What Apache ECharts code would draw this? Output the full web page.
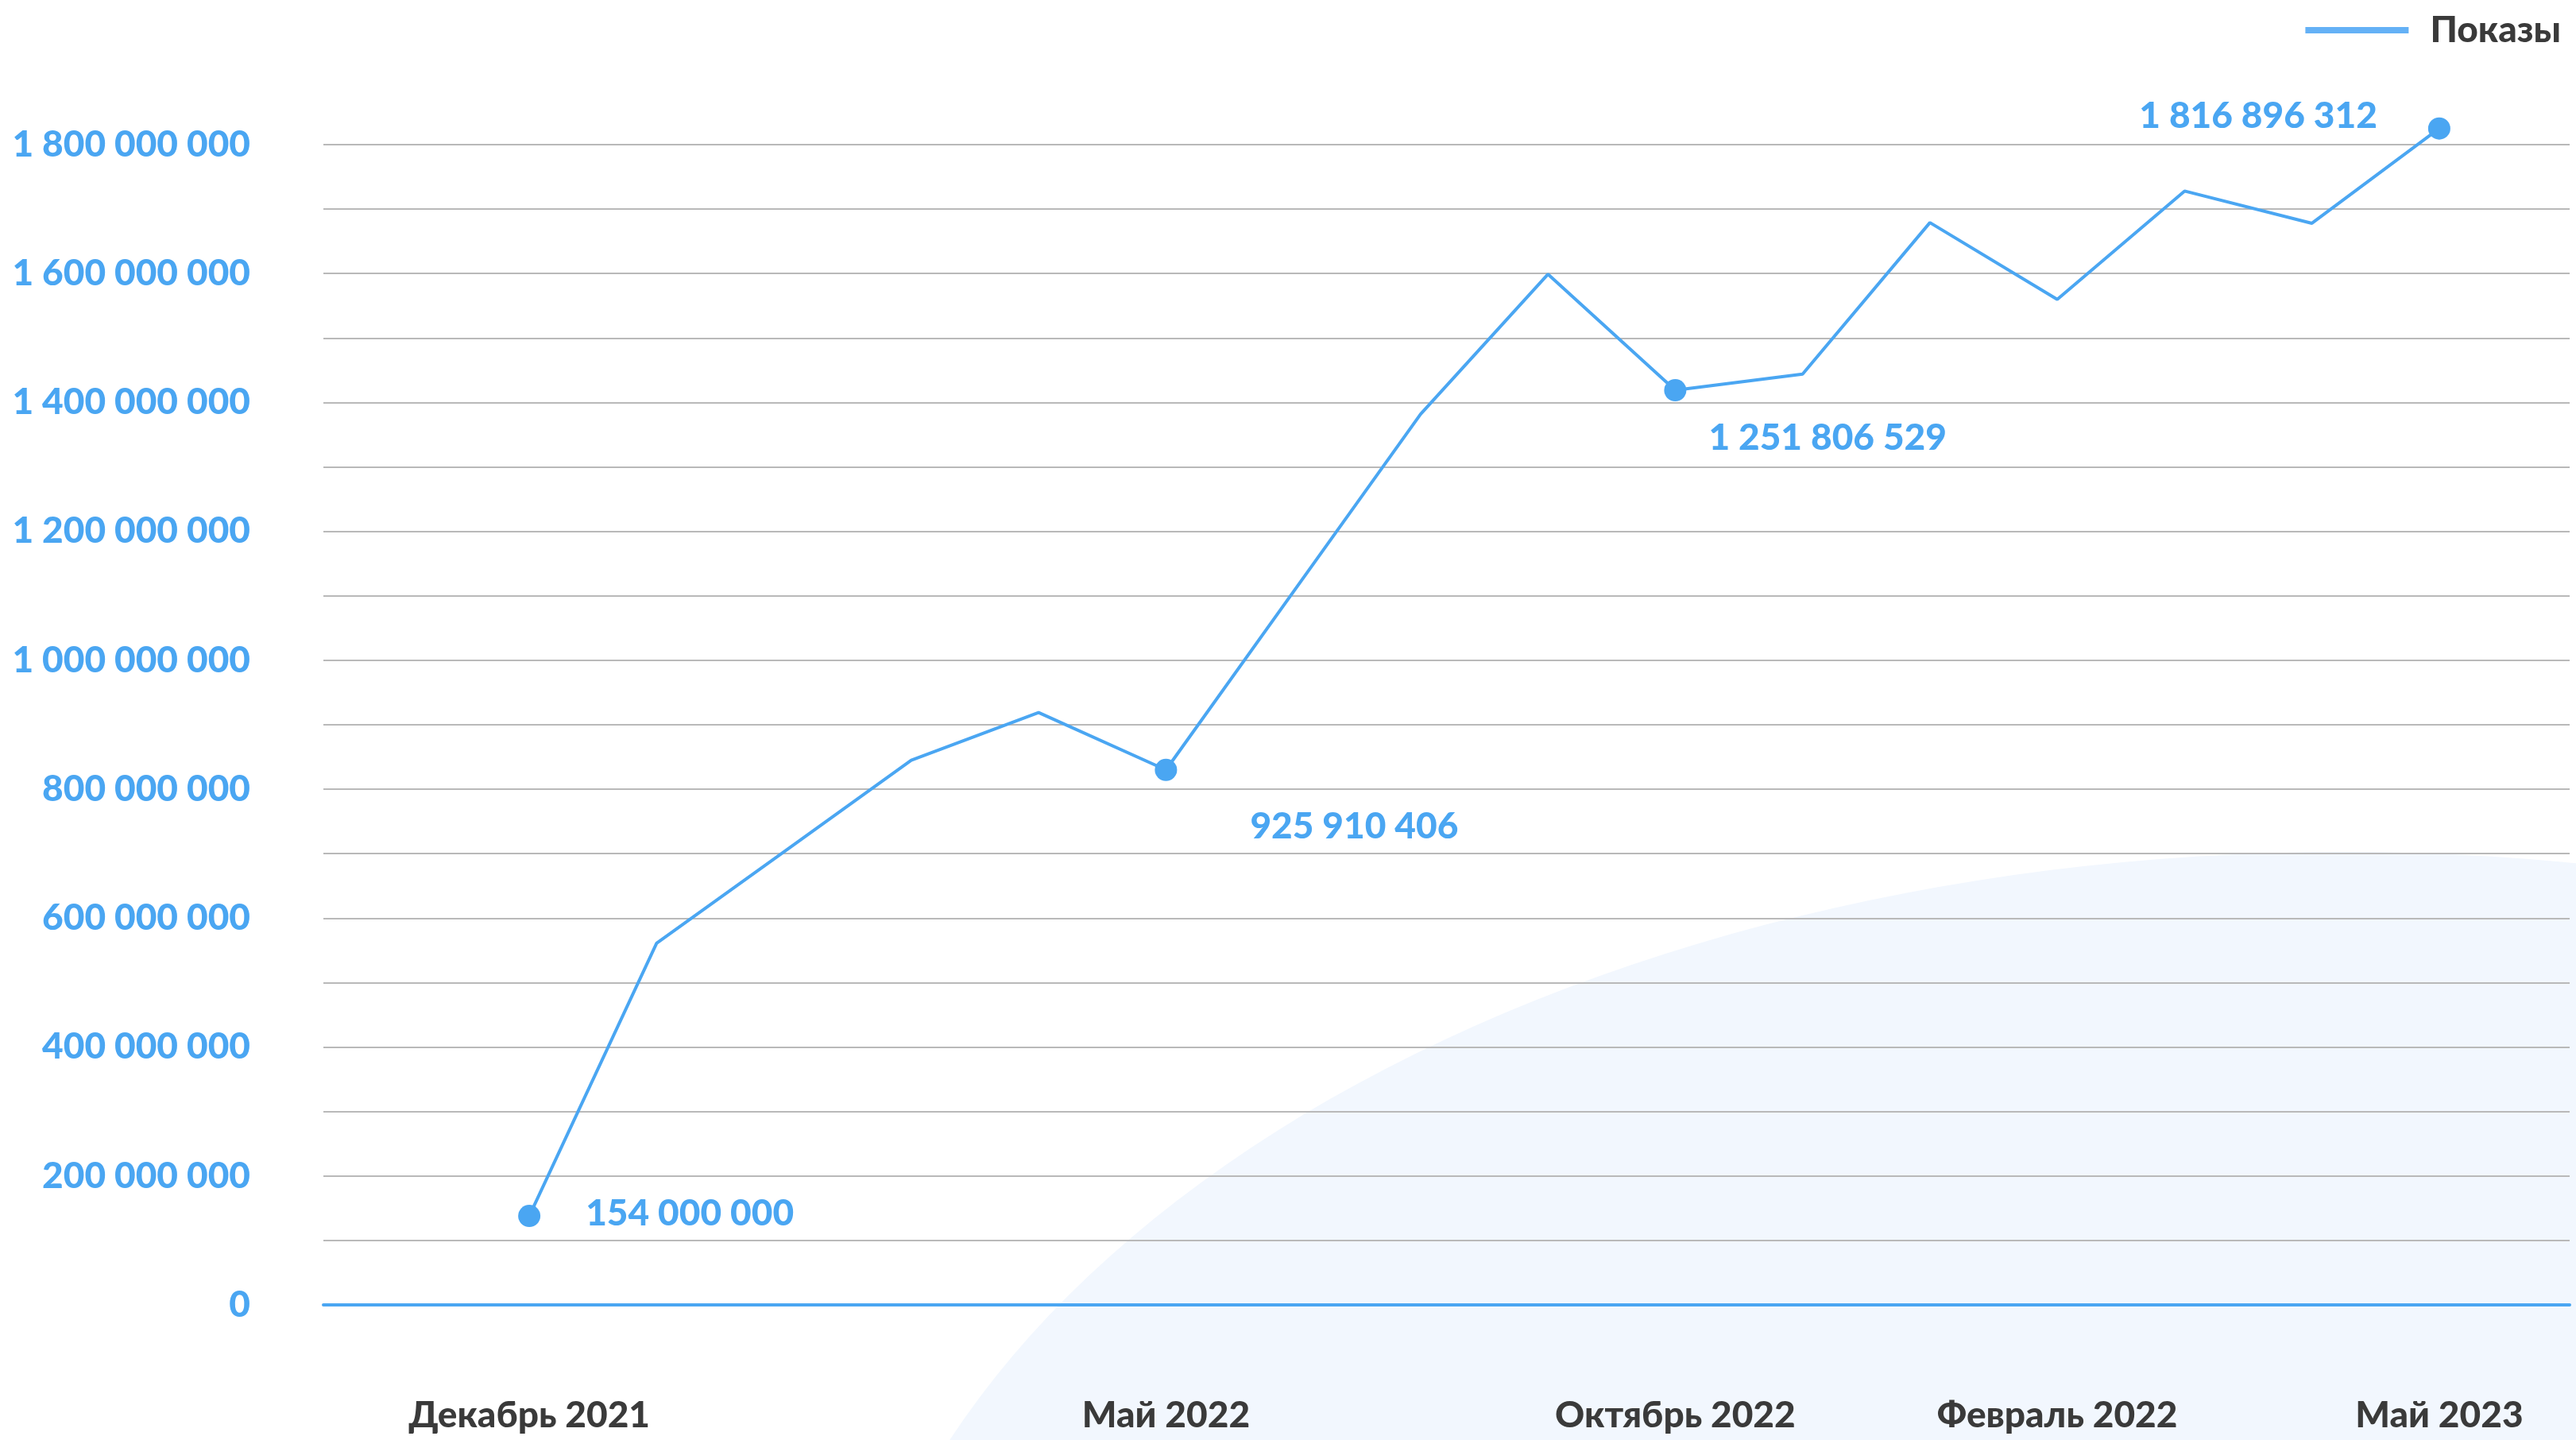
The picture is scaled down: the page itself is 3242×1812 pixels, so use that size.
<!DOCTYPE html>
<html>
<head>
<meta charset="utf-8">
<title>Показы</title>
<script src="https://cdn.jsdelivr.net/npm/echarts@6/dist/echarts.min.js"></script>
<style>
  html, body { margin: 0; padding: 0; background: #fff; }
  #chart { width: 3242px; height: 1812px; }
</style>
</head>
<body>
<div id="chart"></div>
<script>
// months along the x axis (only some are labelled in the original)
const categories = [
  'Декабрь 2021', '', '', '', '', 'Май 2022', '', '', '',
  'Октябрь 2022', '', '', 'Февраль 2022', '', '', 'Май 2023'
];

// impressions, millions
const showsMln = [138, 561, 703, 845, 919, 830, 1106, 1382, 1599, 1419, 1444, 1679, 1560, 1728, 1678, 1825];

// highlighted points and the captions printed next to them
const markedIndex = [0, 5, 9, 15];
const markedText = ['154 000 000', '925 910 406', '1 251 806 529', '1 816 896 312'];

// y axis
const yMax = 1800000000;
const yStep = 100000000;
const yLabelStep = 200000000;

const seriesName = 'Показы';

const BLUE = '#4aa6f2';
const DARK = '#3a3a3a';
const FONT = 'Lato, "Open Sans", sans-serif';
const WEIGHT = 900;

// where each caption sits relative to its dot
const labelPlacement = {
  0: { position: 'right', distance: 57, offset: [0, -3] },
  5: { position: 'right', distance: 92, offset: [0, 71] },
  9: { position: 'right', distance: 28, offset: [0, 60] },
  15: { position: 'left', distance: 64, offset: [0, -16] }
};

function fmt(v) {
  return String(v).replace(/\B(?=(\d{3})+(?!\d))/g, ' ');
}

const seriesData = showsMln.map((v, i) => {
  const k = markedIndex.indexOf(i);
  if (k < 0) {
    return { value: v * 1e6, symbol: 'none' };
  }
  const p = labelPlacement[i];
  return {
    value: v * 1e6,
    symbol: 'circle',
    symbolSize: 28,
    label: {
      show: true,
      position: p.position,
      distance: p.distance,
      offset: p.offset,
      formatter: markedText[k],
      color: BLUE,
      fontSize: 46,
      fontWeight: WEIGHT,
      fontFamily: FONT
    }
  };
});

const chart = echarts.init(document.getElementById('chart'));

chart.setOption({
  animation: false,
  backgroundColor: '#fff',
  graphic: [{
    // pale backdrop curve in the lower right
    type: 'circle',
    z: -10,
    silent: true,
    x: 2950,
    y: 2272,
    scaleX: 1900 / 1200,
    shape: { cx: 0, cy: 0, r: 1200 },
    style: { fill: '#f2f7fe' }
  }],
  legend: {
    right: 14,
    top: 10,
    icon: 'rect',
    itemWidth: 130,
    itemHeight: 8,
    textStyle: {
      fontSize: 46,
      fontWeight: WEIGHT,
      color: DARK,
      fontFamily: FONT,
      padding: [0, 0, 0, 22]
    },
    data: [{ name: seriesName, itemStyle: { color: '#64b1f6' } }]
  },
  grid: [
    { left: 407, right: 8, top: 182, bottom: 170 },
    { left: 586, right: 92, top: 182, bottom: 170 }
  ],
  xAxis: [{
    gridIndex: 0,
    type: 'category',
    data: [''],
    axisLine: { lineStyle: { color: BLUE, width: 4 } },
    axisTick: { show: false },
    axisLabel: { show: false }
  }, {
    gridIndex: 1,
    type: 'category',
    data: categories,
    axisLine: { show: false },
    axisTick: { show: false },
    axisLabel: {
      interval: 0,
      margin: 116,
      color: DARK,
      fontSize: 46,
      fontWeight: WEIGHT,
      fontFamily: FONT
    }
  }],
  yAxis: [{
    gridIndex: 0,
    type: 'value',
    min: 0,
    max: yMax,
    interval: yStep,
    axisLine: { show: false },
    axisTick: { show: false },
    splitLine: { lineStyle: { color: '#b9b9b9', width: 2 } },
    axisLabel: {
      margin: 92,
      color: BLUE,
      fontSize: 46,
      fontWeight: WEIGHT,
      fontFamily: FONT,
      formatter: v => (v % yLabelStep === 0 ? fmt(v) : '')
    }
  }, {
    gridIndex: 1,
    type: 'value',
    min: 0,
    max: yMax,
    interval: yStep,
    show: false,
    splitLine: { show: false }
  }],
  series: [{
    name: seriesName,
    type: 'line',
    xAxisIndex: 1,
    yAxisIndex: 1,
    clip: false,
    data: seriesData,
    itemStyle: { color: BLUE },
    lineStyle: { color: BLUE, width: 4 }
  }]
});
</script>
</body>
</html>
